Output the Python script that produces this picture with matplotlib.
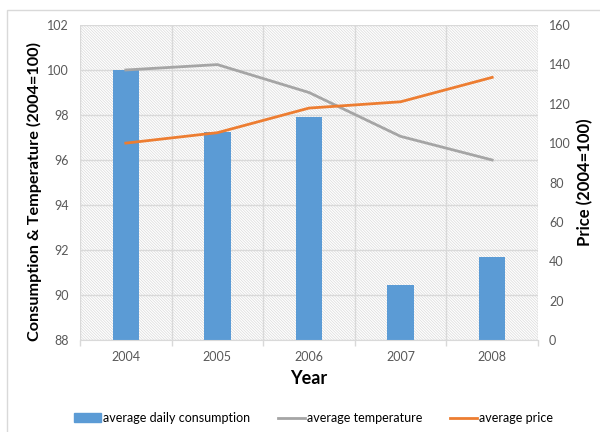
import matplotlib.pyplot as plt
import numpy as np
from matplotlib.patches import Rectangle
from matplotlib.lines import Line2D

plt.rcParams['font.family'] = ['Lato', 'DejaVu Sans']
plt.rcParams['hatch.linewidth'] = 0.5

years = ['2004', '2005', '2006', '2007', '2008']
consumption = [100.0, 97.25, 97.9, 90.43, 91.7]
temperature = [100.0, 100.24, 99.0, 97.05, 96.0]
price = [100.0, 105.3, 117.8, 121.0, 133.4]

blue = '#5B9BD5'
gray = '#A5A5A5'
orange = '#ED7D31'
grid_c = '#D9D9D9'
tick_c = '#595959'

fig = plt.figure(figsize=(6, 4.32), dpi=100)
# outer chart border
fig.patches.append(Rectangle((7 / 600, -0.1), 1.2, 1 - 10 / 432 + 0.1,
                             transform=fig.transFigure, fill=False,
                             edgecolor=grid_c, linewidth=1.0))

ax = fig.add_axes([80 / 600, 1 - 340 / 432, 458 / 600, 315 / 432])
x = np.arange(len(years))

# hatched plot area background
ax.add_patch(Rectangle((0, 0), 1, 1, transform=ax.transAxes, facecolor='white',
                       edgecolor='#DADADA', hatch='\\' * 12, linewidth=0, zorder=0))

ax.bar(x, [c - 88 for c in consumption], bottom=88, width=0.29, color=blue, zorder=2)
ax.plot(x, temperature, color=gray, linewidth=2, zorder=3)

ax.set_xlim(-0.5, len(years) - 0.5)
ax.set_ylim(88, 102)
ax.set_yticks(np.arange(88, 103, 2))
ax.set_xticks(x)
ax.set_xticklabels(years)
ax.set_xticks(np.arange(-0.5, len(years), 1), minor=True)
ax.tick_params(axis='x', which='major', length=0, colors=tick_c, labelsize=9, pad=8)
ax.tick_params(axis='x', which='minor', length=4, color=grid_c, width=1)
ax.tick_params(axis='y', length=0, colors=tick_c, labelsize=9, pad=8)
ax.grid(axis='y', color=grid_c, linewidth=1, zorder=1)
ax.grid(axis='x', which='minor', color=grid_c, linewidth=1, zorder=1)
for s in ['top', 'left', 'right']:
    ax.spines[s].set_visible(False)
ax.spines['bottom'].set_color(grid_c)
ax.set_xlabel('Year', fontsize=13, fontweight='bold', labelpad=5)
ax.set_ylabel('Consumption & Temperature (2004=100)', fontsize=11.7, fontweight='bold')
ax.yaxis.set_label_coords(-0.082, 0.473)

ax2 = ax.twinx()
ax2.plot(x, price, color=orange, linewidth=2, zorder=3)
ax2.set_ylim(0, 160)
ax2.set_yticks(np.arange(0, 161, 20))
ax2.tick_params(axis='y', length=0, colors=tick_c, labelsize=9, pad=8)
for s in ['top', 'left', 'right', 'bottom']:
    ax2.spines[s].set_visible(False)
ax2.set_ylabel('Price (2004=100)', fontsize=12, fontweight='bold', labelpad=4)

handles = [Rectangle((0, 0), 1, 1, color=blue),
           Line2D([0], [0], color=gray, linewidth=2),
           Line2D([0], [0], color=orange, linewidth=2)]
labels = ['average daily consumption', 'average temperature', 'average price']
fig.legend(handles, labels, loc='center', bbox_to_anchor=(0.5225, 1 - 418 / 432), ncol=3,
           frameon=False, fontsize=9, handlelength=2.2, handletextpad=0.15, columnspacing=2.2)

fig.savefig('out.png', dpi=100)
